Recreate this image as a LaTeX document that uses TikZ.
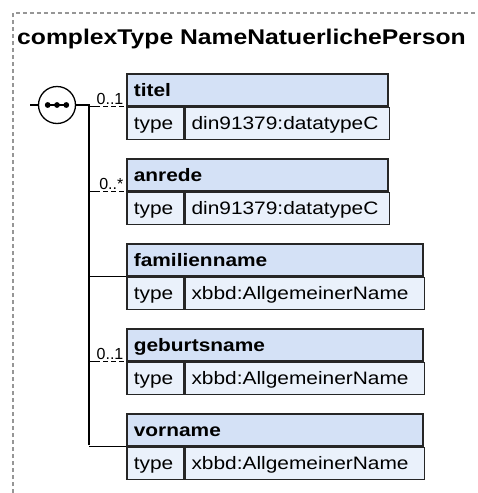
\documentclass[tikz,border=0pt]{standalone}
\usepackage{fontspec}
\setmainfont{Liberation Sans}
\newfontfamily\diagfont[FakeStretch=1.16]{Liberation Sans}
\usetikzlibrary{positioning}

\definecolor{hdrblue}{RGB}{212,225,246}
\definecolor{rowblue}{RGB}{234,241,251}
\definecolor{framegray}{RGB}{150,150,150}

\tikzset{
  boxline/.style={draw=black!85, line width=1.7pt, inner sep=0pt, anchor=north west, align=left},
  elhead/.style={boxline, fill=hdrblue, minimum height=32pt, inner xsep=7pt,
    text height=15pt, text depth=1pt, font=\diagfont\fontsize{18}{20}\selectfont\bfseries},
  keycell/.style={boxline, fill=rowblue, minimum height=32pt, inner xsep=7pt, text width=43pt,
    text height=14pt, text depth=2pt, font=\diagfont\fontsize{18}{20}\selectfont},
  valcell/.style={keycell, inner xsep=6pt},
  conn/.style={draw=black, line width=1.3pt},
  optconn/.style={conn, dash pattern=on 5pt off 3pt},
  occurs/.style={anchor=south east, inner sep=1pt, xshift=-1pt, font=\fontsize{16}{16}\selectfont},
}

\begin{document}
\begin{tikzpicture}[x=1pt,y=-1pt]
\useasboundingbox (0,0) rectangle (477,493);
% frame and title
\draw[framegray, line width=1.2pt, dash pattern=on 4pt off 3pt] (13,493) -- (13,13) -- (477,13);
\node[anchor=base west, inner sep=0pt, font=\diagfont\fontsize{21.3}{24}\selectfont\bfseries] (title) at (17,44) {complexType NameNatuerlichePerson};

% sequence compositor
\node[draw, circle, line width=1.3pt, minimum size=37pt, inner sep=0pt] (seq) at (57,105) {};
\draw[line width=1.3pt] ([xshift=-10pt]seq.center) -- ([xshift=10pt]seq.center);
\foreach \dx in {-9.3,0,9.3}{\fill ([xshift=\dx pt]seq.center) circle (2.9pt);}
\coordinate (seqin) at (30,105);
\coordinate (trunktop) at (89,105);
\coordinate (trunkbot) at (89,445);
\draw[conn] (seqin) -- (seq.west);
\draw[conn] (seq.east) -- (trunktop) -- (trunkbot);

% elements
\foreach \name/\top/\hw/\vw/\dtype in {
    titel/73/247/192/{din91379:datatypeC},
    anrede/158/247/192/{din91379:datatypeC},
    familienname/243/282/227/{xbbd:AllgemeinerName},
    geburtsname/328/282/227/{xbbd:AllgemeinerName},
    vorname/413/282/227/{xbbd:AllgemeinerName}%
}{
  \node[elhead, text width=\hw pt] (\name) at (126,\top) {\name};
  \node[keycell] (\name k) at (\name.south west) {type};
  \node[valcell, text width=\vw pt] (\name v) at (\name k.north east) {\dtype};
  \coordinate (\name j) at (trunktop |- \name.south west);
}

% connectors
\draw[conn] (familiennamej) -- (familienname.south west);
\draw[conn] (vornamej) -- (vorname.south west);
\foreach \name/\occ in {titel/{0..1}, anrede/{0..*}, geburtsname/{0..1}}{
  \draw[conn] (\name j) -- ([xshift=6pt]\name j) coordinate (\name d);
  \draw[optconn] (\name d) -- (\name.south west) node[occurs] {\occ};
}
\end{tikzpicture}
\end{document}
